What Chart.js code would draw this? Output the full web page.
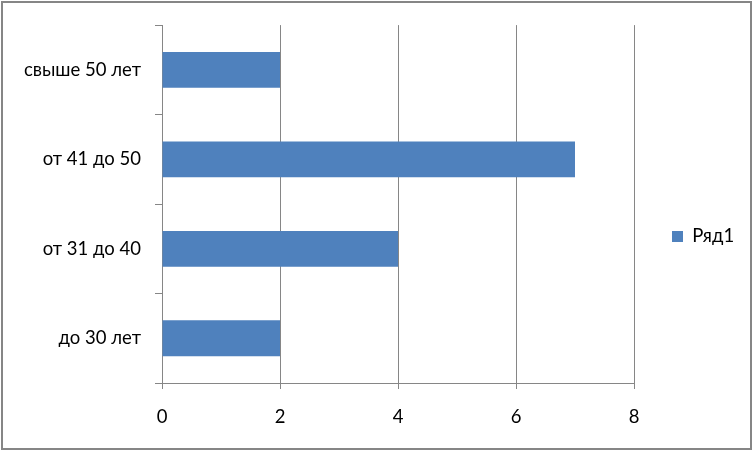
<!DOCTYPE html>
<html>
<head>
<meta charset="utf-8">
<script src="https://cdn.jsdelivr.net/npm/chart.js@4/dist/chart.umd.min.js"></script>
<style>
  html, body { margin: 0; padding: 0; background: #fff; }
  #wrap { width: 753px; height: 451px; }
</style>
</head>
<body>
<div id="wrap"><canvas id="chart" width="753" height="451"></canvas></div>
<script>
// data (Excel order: first category at the bottom)
const categories = ['до 30 лет', 'от 31 до 40', 'от 41 до 50', 'свыше 50 лет'];
const seriesName = 'Ряд1';
const seriesValues = [2, 4, 7, 2];
const xTicks = [0, 2, 4, 6, 8];

const GRAY = '#868686';
const BLUE = '#4F81BD';
const FONT = { family: 'Lato, "Open Sans", sans-serif', size: 18.5 };

// white background + outer frame
const framePlugin = {
  id: 'frame',
  beforeDraw(chart) {
    const ctx = chart.ctx;
    ctx.save();
    ctx.fillStyle = '#fff';
    ctx.fillRect(0, 0, chart.width, chart.height);
    ctx.restore();
  },
  afterDraw(chart) {
    const ctx = chart.ctx;
    ctx.save();
    ctx.strokeStyle = GRAY;
    ctx.lineWidth = 2;
    ctx.strokeRect(2, 2, chart.width - 4, chart.height - 4);
    ctx.restore();
  }
};

// keep the legend column at a fixed width so the plot ends where it does in the original
const legendWidthPlugin = {
  id: 'legendWidth',
  afterInit(chart) {
    const legend = chart.legend;
    const fit = legend.fit;
    legend.fit = function () {
      fit.call(this);
      this.width = 119;
    };
  }
};

Chart.defaults.font.family = FONT.family;
Chart.defaults.font.size = FONT.size;
Chart.defaults.color = '#000';

new Chart(document.getElementById('chart'), {
  type: 'bar',
  data: {
    labels: categories,
    datasets: [{
      label: seriesName,
      data: seriesValues,
      backgroundColor: BLUE,
      borderColor: BLUE,
      borderWidth: 0,
      barPercentage: 1,
      categoryPercentage: 0.4
    }]
  },
  options: {
    indexAxis: 'y',
    responsive: false,
    animation: false,
    devicePixelRatio: 1,
    layout: { padding: { top: 22, left: 0, right: 0, bottom: 0 } },
    scales: {
      x: {
        min: 0,
        max: 8,
        afterBuildTicks(scale) {
          scale.ticks = xTicks.map(v => ({ value: v }));
        },
        afterFit(scale) { scale.height = 68; },
        grid: {
          color: GRAY,
          lineWidth: 1,
          drawTicks: true,
          tickLength: 6,
          tickColor: GRAY
        },
        border: { display: true, color: GRAY, width: 1 },
        ticks: { padding: 17, font: FONT, color: '#000' }
      },
      y: {
        reverse: true,
        afterFit(scale) { scale.width = 162; },
        grid: {
          offset: true,
          drawOnChartArea: false,
          drawTicks: true,
          tickLength: 7,
          color: GRAY
        },
        border: { display: true, color: GRAY, width: 1 },
        ticks: { padding: 14, font: FONT, color: '#000' }
      }
    },
    plugins: {
      legend: {
        position: 'right',
        labels: {
          boxWidth: 11,
          boxHeight: 11,
          padding: 38,
          font: FONT,
          color: '#000'
        }
      },
      tooltip: { enabled: false }
    }
  },
  plugins: [framePlugin, legendWidthPlugin]
});
</script>
</body>
</html>
